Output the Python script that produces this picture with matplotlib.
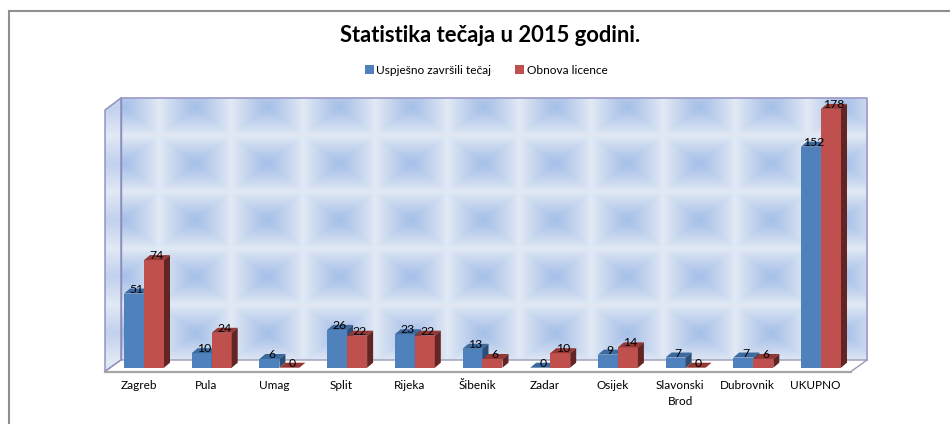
import numpy as np
import matplotlib
matplotlib.use("Agg")
import matplotlib.pyplot as plt
from matplotlib.patches import Polygon, Patch
from matplotlib.transforms import ScaledTranslation

plt.rcParams['font.family'] = ['Lato', 'DejaVu Sans']

title = "Statistika tečaja u 2015 godini."
cities = ["Zagreb", "Pula", "Umag", "Split", "Rijeka", "Šibenik", "Zadar", "Osijek",
          "Slavonski\nBrod", "Dubrovnik", "UKUPNO"]
passed = [51, 10, 6, 26, 23, 13, 0, 9, 7, 7, 152]
renewed = [74, 24, 0, 22, 22, 6, 10, 14, 0, 6, 178]
names = ["Uspješno završili tečaj", "Obnova licence"]

W, H = 950, 424
fig = plt.figure(figsize=(W / 100, H / 100), dpi=100, facecolor="white")

# chart furniture is drawn in pixel coords on a background axes
bg = fig.add_axes([0, 0, 1, 1], zorder=0)
bg.set_xlim(0, W)
bg.set_ylim(H, 0)
bg.axis("off")

bg.plot([8.5, 8.5, W], [H, 10.5, 10.5], color="#8f8f8f", lw=1.5, solid_joinstyle="miter")


def tiles(xs, ys, x0, y0, tw, th, blue=(0.65, 0.75, 0.91)):
    u = np.abs(((xs - x0) / tw + 0.5) % 1 - 0.5) * 2
    v = np.abs(((ys - y0) / th + 0.5) % 1 - 0.5) * 2
    t = np.maximum(u, v) ** 1.1
    blue = np.array(blue)
    light = np.array([0.885, 0.915, 0.96])
    return blue + (light - blue) * t[..., None]


xs, ys = np.meshgrid(np.arange(121, 867), np.arange(98, 360))
bg.imshow(tiles(xs, ys, 267, 163, 72, 56.5), extent=(121, 867, 360, 98),
          interpolation="bilinear", aspect="auto", zorder=1)

# left wall, same texture squeezed
xs2, ys2 = np.meshgrid(np.arange(105, 121), np.arange(98, 372))
side = bg.imshow(tiles(xs2, ys2, 113, 163, 1000, 56.5, blue=(0.76, 0.82, 0.93)), extent=(105, 121, 372, 98),
                 interpolation="bilinear", aspect="auto", zorder=1)
side_poly = Polygon([(105, 110), (121, 98), (121, 360), (105, 371.5)], closed=True,
                    transform=bg.transData, facecolor="none", edgecolor="#8c8cbc", lw=1, zorder=2)
bg.add_patch(side_poly)
side.set_clip_path(side_poly)

bg.plot([121, 867, 867], [98, 98, 360], color="#9a9ac4", lw=1.2, zorder=2)
bg.plot([121, 121], [98, 360], color="#8c8cbc", lw=1, zorder=2)
bg.add_patch(Polygon([(121, 360), (867, 360), (851, 371.5), (105, 371.5)], closed=True,
                     facecolor="white", edgecolor="none", zorder=2))
bg.plot([121, 867, 851], [360, 360, 371.5], color="#9a9ab8", lw=1, zorder=3)
bg.plot([105, 121], [371.5, 360], color="#8c8cbc", lw=1, zorder=3)
bg.plot([105, 851], [371.5, 371.5], color="#a6a6a6", lw=1.6, zorder=3)

# data axes: value 0 sits on the bars' base line
left_px, right_px, base_px, top_px = 105, 851, 367.7, 98
step_px, unit_px = 67.7, 1.454
ax = fig.add_axes([left_px / W, 1 - base_px / H, (right_px - left_px) / W, (base_px - top_px) / H],
                  zorder=1)
ax.patch.set_alpha(0)
ax.set_xlim((left_px - 144) / step_px, (right_px - 144) / step_px)
ax.set_ylim(0, (base_px - top_px) / unit_px)
for s in ax.spines.values():
    s.set_visible(False)
ax.set_yticks([])

x = np.arange(len(cities))
bw = 20 / step_px
dx, dy = 6 / step_px, 5 / unit_px


def bars(pos, vals, front, topc, sidec, z):
    ax.bar(pos, vals, bw, color=front, zorder=z, clip_on=False)
    for p, v in zip(pos, vals):
        l, r = p - bw / 2, p + bw / 2
        ax.fill([l, r, r + dx, l + dx], [v, v, v + dy, v + dy], color=topc, lw=0, zorder=z, clip_on=False)
        ax.fill([r, r + dx, r + dx, r], [0, dy, v + dy, v], color=sidec, lw=0, zorder=z, clip_on=False)


bars(x - bw / 2, passed, "#4f81bd", "#3c6a9f", "#2c4d75", 3)
bars(x + bw / 2, renewed, "#c0504d", "#953735", "#632523", 4)

for pos, vals in ((x - bw / 2, passed), (x + bw / 2, renewed)):
    for p, v in zip(pos, vals):
        ax.annotate(str(v), (p, v), xytext=(1.8, 3.2), textcoords="offset points", ha="center",
                    va="center", fontsize=8.8, color="black", zorder=6, annotation_clip=False)

ax.set_xticks(x)
ax.set_xticklabels(cities, fontsize=8.5, color="black", linespacing=1.65)
ax.tick_params(axis="x", length=0, pad=8.6)
shift = ScaledTranslation(-5.5 / 100, 0, fig.dpi_scale_trans)
for lab in ax.get_xticklabels():
    lab.set_transform(lab.get_transform() + shift)

fig.text(490 / W, 1 - 36 / H, title, fontsize=15.8, fontweight="bold", ha="center", va="center")

handles = [Patch(facecolor="#4f81bd", label=names[0]), Patch(facecolor="#c0504d", label=names[1])]
fig.legend(handles=handles, ncol=2, frameon=False, fontsize=8.6, handlelength=0.8, handleheight=0.8,
           handletextpad=0.2, columnspacing=1.95, loc="center", bbox_to_anchor=(486 / W, 1 - 70 / H))

fig.savefig("out.png", dpi=100)
